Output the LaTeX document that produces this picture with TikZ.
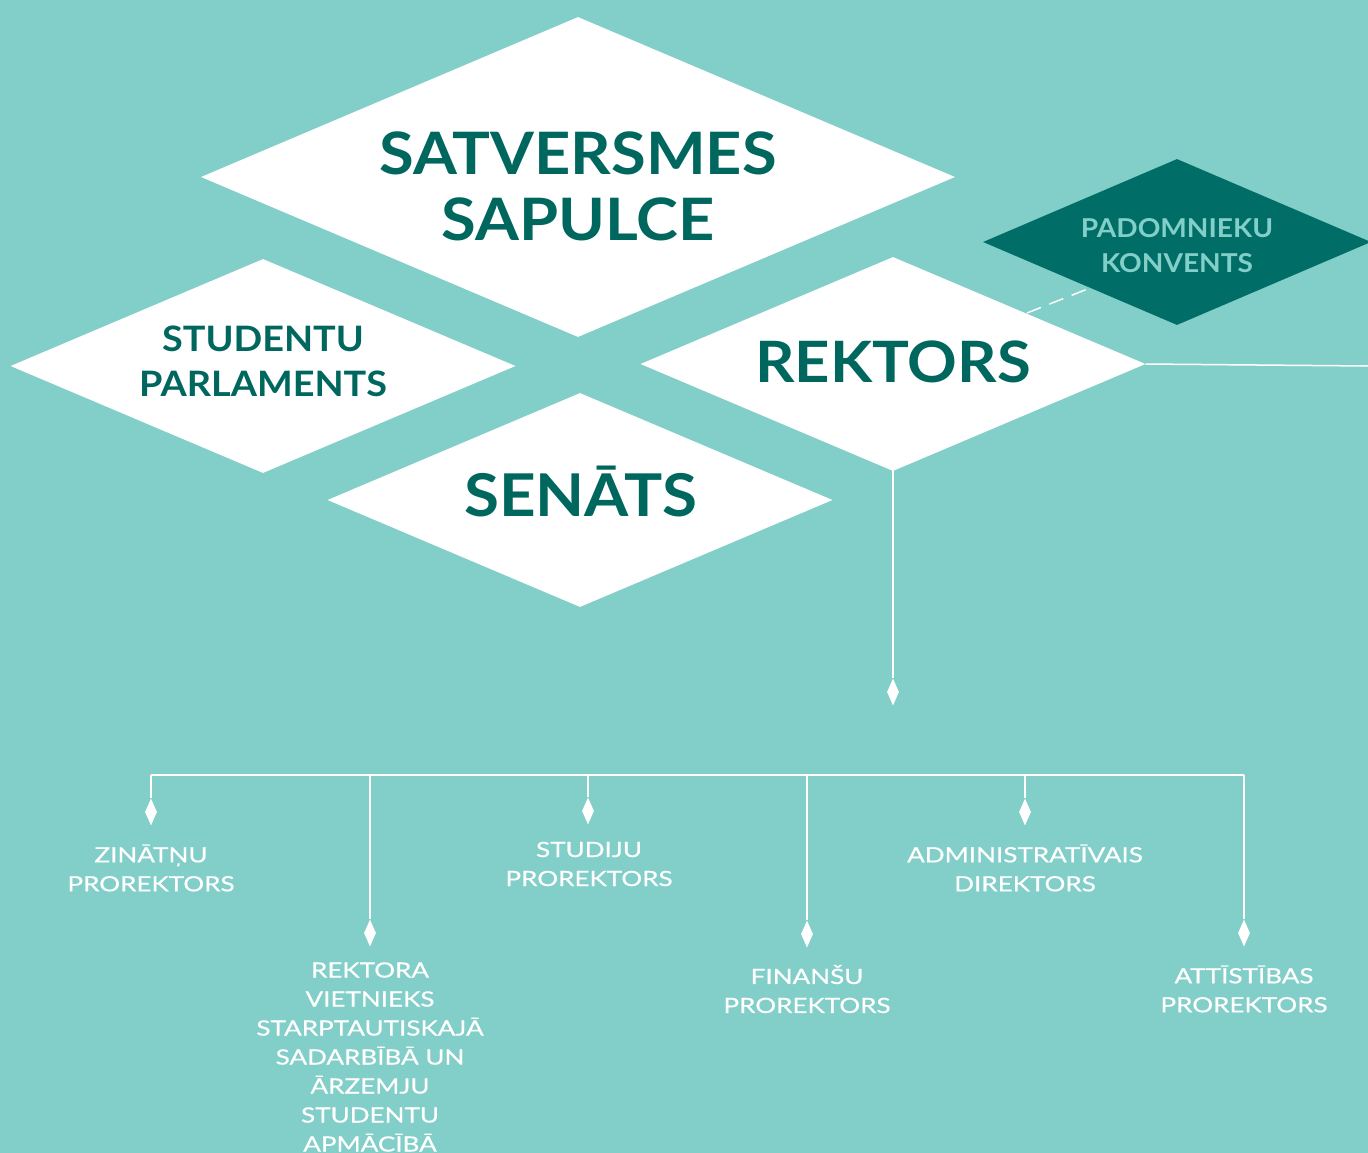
\documentclass[tikz,border=0pt]{standalone}
\usepackage{fontspec}
\setmainfont{Lato}
\newfontfamily\titlefont[FakeStretch=1.08]{Lato}
\newfontfamily\labelfont[FakeStretch=1.24,FakeBold=0.6]{Lato}
\usetikzlibrary{shapes.geometric}
\definecolor{bgteal}{RGB}{130,206,201}
\definecolor{darkteal}{RGB}{0,110,102}
\definecolor{txtteal}{RGB}{0,103,95}
\tikzset{
  bigdia/.style={diamond, fill=white, inner sep=0pt, shape aspect=2.36},
  darkdia/.style={diamond, fill=darkteal, inner sep=0pt, shape aspect=2.34},
  ttl/.style={text=txtteal, align=center, inner sep=0pt},
  marker/.style={diamond, fill=white, inner sep=0pt, minimum width=12pt, minimum height=27pt, shape aspect=0.45},
  wline/.style={draw=white, line width=1.5pt},
  lbl/.style={text=white, align=center, font=\labelfont\fontsize{21}{29}\selectfont, inner sep=0pt}
}
\begin{document}
\begin{tikzpicture}[x=1pt,y=-1pt]
\useasboundingbox (0,0) rectangle (1368,1153);
\fill[bgteal] (0,0) rectangle (1368,1153);
% dashed link (behind diamonds)
\coordinate (dA) at (1027,313);
\coordinate (dB) at (1090,288);
\draw[white, line width=1.5pt, dash pattern=on 15pt off 9pt] (dA) -- (dB);
% diamonds
\node[darkdia, minimum width=388pt, minimum height=166pt] (pad) at (1177,242) {};
\node[bigdia, minimum width=754pt, minimum height=320pt] (sat) at (578,177) {};
\node[bigdia, minimum width=505pt, minimum height=214pt] (stu) at (263,366) {};
\node[bigdia, minimum width=505pt, minimum height=214pt] (rek) at (893,364) {};
\node[bigdia, minimum width=505pt, minimum height=214pt] (sen) at (580,500) {};
% diamond texts
\node[ttl, text=bgteal, font=\titlefont\bfseries\fontsize{26}{35}\selectfont] (padT) at (1177,246) {PADOMNIEKU\\KONVENTS};
\node[ttl, font=\titlefont\bfseries\fontsize{58.5}{66}\selectfont] (satT) at (578,186) {SATVERSMES\\SAPULCE};
\node[ttl, font=\titlefont\bfseries\fontsize{35}{45}\selectfont] (stuT) at (263,361.5) {STUDENTU\\PARLAMENTS};
\node[ttl, font=\titlefont\bfseries\fontsize{57}{60}\selectfont] (rekT) at (893,362) {REKTORS};
\node[ttl, font=\titlefont\bfseries\fontsize{59}{60}\selectfont] (senT) at (581,491) {SEN\=ATS};
% right line
\coordinate (rend) at (1368,366);
\draw[wline] (rek.east) -- (rend);
% rektors down
\node[marker] (m0) at (893,692) {};
\draw[wline] (rek.south) -- (m0.north);
% bus
\coordinate (b1) at (151,775);
\coordinate (b2) at (370,775);
\coordinate (b3) at (588,775);
\coordinate (b4) at (807,775);
\coordinate (b5) at (1025,775);
\coordinate (b6) at (1244,775);
\draw[wline] (b1) -- (b6);
\node[marker] (m1) at (151,812) {};
\node[marker] (m2) at (370,933) {};
\node[marker] (m3) at (588,811) {};
\node[marker] (m4) at (807,934) {};
\node[marker] (m5) at (1025,812) {};
\node[marker] (m6) at (1244,933) {};
\draw[wline] (b1) -- (m1.north);
\draw[wline] (b2) -- (m2.north);
\draw[wline] (b3) -- (m3.north);
\draw[wline] (b4) -- (m4.north);
\draw[wline] (b5) -- (m5.north);
\draw[wline] (b6) -- (m6.north);
% labels
\node[lbl] (l1) at (151,868) {ZIN\=AT\c{N}U\\PROREKTORS};
\node[lbl] (l3) at (589,864) {STUDIJU\\PROREKTORS};
\node[lbl] (l5) at (1025,868) {ADMINISTRAT\=IVAIS\\DIREKTORS};
\node[lbl] (l2) at (370,1057) {REKTORA\\VIETNIEKS\\STARPTAUTISKAJ\=A\\SADARB\=IB\=A UN\\\=ARZEMJU\\STUDENTU\\APM\=AC\=IB\=A};
\node[lbl] (l4) at (807,989) {FINAN\v{S}U\\PROREKTORS};
\node[lbl] (l6) at (1244,989) {ATT\=IST\=IBAS\\PROREKTORS};
\end{tikzpicture}
\end{document}
